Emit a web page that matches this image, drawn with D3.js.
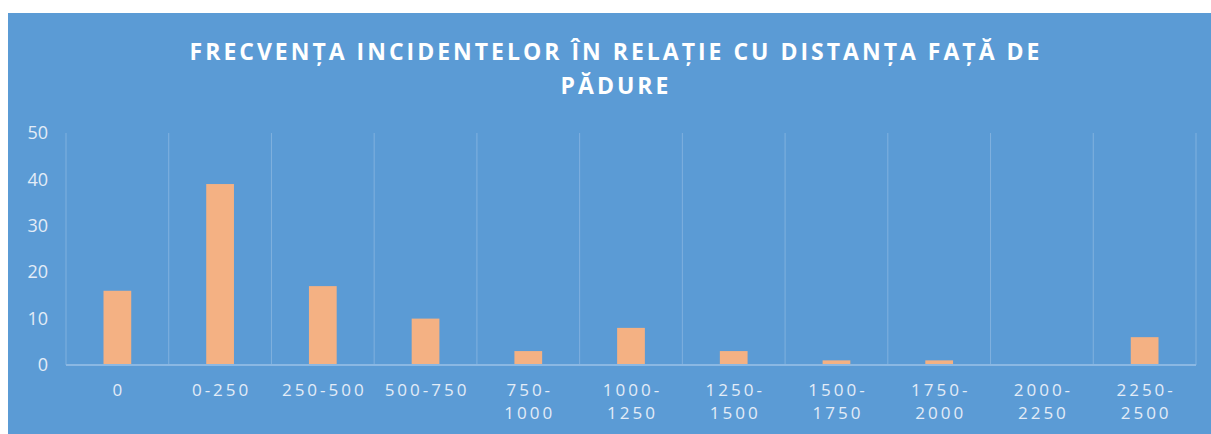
<!DOCTYPE html>
<html>
<head>
<meta charset="utf-8">
<script src="https://cdn.jsdelivr.net/npm/d3@7"></script>
<style>
  html, body { margin: 0; padding: 0; background: #fff; }
  svg { display: block; }
</style>
</head>
<body>
<svg id="chart"></svg>
<script>
// data
var categories = ["0", "0-250", "250-500", "500-750", "750-|1000", "1000-|1250", "1250-|1500",
                  "1500-|1750", "1750-|2000", "2000-|2250", "2250-|2500"];
var counts = [16, 39, 17, 10, 3, 8, 3, 1, 1, 0, 6];
var yTicks = [0, 10, 20, 30, 40, 50];
var titleLines = ["FRECVENȚA INCIDENTELOR ÎN RELAȚIE CU DISTANȚA FAȚĂ DE", "PĂDURE"];

var width = 1211, height = 434;
var svg = d3.select("#chart").attr("width", width).attr("height", height);

// chart area background
svg.append("rect")
  .attr("x", 8).attr("y", 13)
  .attr("width", width - 8).attr("height", height - 13)
  .attr("fill", "#5b9bd5");

var plot = {left: 66, right: 1196, top: 133, bottom: 365};

var x = d3.scaleBand()
  .domain(categories)
  .range([plot.left, plot.right])
  .padding(0);

var y = d3.scaleLinear()
  .domain([0, 50])
  .range([plot.bottom, plot.top]);

// vertical separators between categories
var edges = categories.map(function(c) { return x(c); }).concat([plot.right]);
svg.append("g")
  .selectAll("line")
  .data(edges)
  .enter()
  .append("line")
    .attr("x1", function(d) { return d; })
    .attr("x2", function(d) { return d; })
    .attr("y1", plot.top)
    .attr("y2", plot.bottom)
    .attr("stroke", "#80b1df")
    .attr("stroke-width", 1);

// bars
var barW = x.bandwidth() * 0.27;
svg.append("g")
  .selectAll("rect")
  .data(counts)
  .enter()
  .append("rect")
    .attr("x", function(d, i) { return x(categories[i]) + x.bandwidth() / 2 - barW / 2; })
    .attr("y", function(d) { return y(d); })
    .attr("width", barW)
    .attr("height", function(d) { return y(0) - y(d); })
    .attr("fill", "#f4b183");

// baseline
svg.append("line")
  .attr("x1", plot.left).attr("x2", plot.right)
  .attr("y1", y(0)).attr("y2", y(0))
  .attr("stroke", "#8bb8e3")
  .attr("stroke-width", 2);

// y axis labels
var yAxis = d3.axisLeft(y).tickValues(yTicks).tickSize(0).tickPadding(18);
var gy = svg.append("g")
  .attr("transform", "translate(" + plot.left + ",0)")
  .call(yAxis);
gy.select(".domain").remove();
gy.selectAll("text")
  .attr("fill", "#e3ecf7")
  .style("font-family", "'Open Sans', sans-serif")
  .style("font-size", "18px");

// x axis labels (two lines, letter spaced)
var xl = svg.append("g")
  .selectAll("text")
  .data(categories)
  .enter()
  .append("text")
    .attr("x", function(d) { return x(d) + x.bandwidth() / 2 + 1.5; })
    .attr("y", 396)
    .attr("text-anchor", "middle")
    .attr("fill", "#e3ecf7")
    .style("font-family", "'Open Sans', sans-serif")
    .style("font-size", "17px")
    .style("letter-spacing", "3px");
xl.each(function(d) {
  var parts = d.split("|");
  var t = d3.select(this);
  parts.forEach(function(p, i) {
    t.append("tspan")
      .attr("x", t.attr("x"))
      .attr("dy", i === 0 ? 0 : 23)
      .text(p);
  });
});

// title
svg.append("g")
  .selectAll("text")
  .data(titleLines)
  .enter()
  .append("text")
    .attr("x", 616)
    .attr("y", function(d, i) { return 60 + i * 34; })
    .attr("text-anchor", "middle")
    .attr("fill", "#ffffff")
    .style("font-family", "'Open Sans', sans-serif")
    .style("font-weight", "bold")
    .style("font-size", "23px")
    .style("letter-spacing", "3px")
    .text(function(d) { return d; });
</script>
</body>
</html>
